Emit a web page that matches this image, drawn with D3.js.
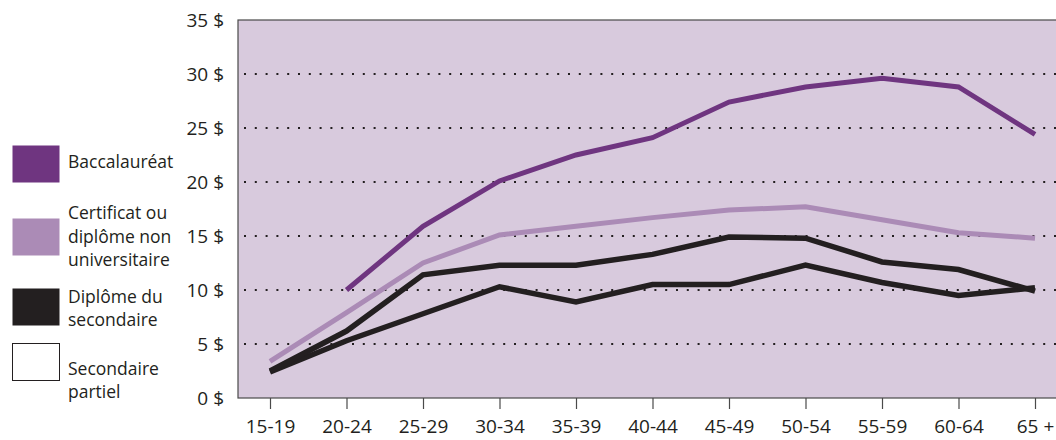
<!DOCTYPE html>
<html><head><meta charset="utf-8">
<script src="https://cdn.jsdelivr.net/npm/d3@7"></script>
<style>body{margin:0;background:#fff;}svg{display:block;}text{font-family:"Open Sans","DejaVu Sans",sans-serif;fill:#231f20;}</style>
</head><body><svg id="c" width="1056" height="440"></svg>
<script>
const categories = ["15-19","20-24","25-29","30-34","35-39","40-44","45-49","50-54","55-59","60-64","65 +"];
const baccalaureat = [null,10.0,15.9,20.1,22.5,24.1,27.4,28.8,29.6,28.8,24.4];
const certificat = [3.4,7.9,12.5,15.1,15.9,16.7,17.4,17.7,16.5,15.3,14.8];
const diplomeSecondaire = [2.5,6.2,11.4,12.3,12.3,13.3,14.9,14.8,12.6,11.9,9.9];
const secondairePartiel = [2.4,5.3,7.8,10.3,8.9,10.5,10.5,12.3,10.7,9.5,10.2];
const yTicks = [0,5,10,15,20,25,30,35];
const seriesNames = ["Baccalauréat","Certificat ou|diplôme non|universitaire","Diplôme du|secondaire","Secondaire|partiel"];
const seriesColors = ["#6f3580","#ab8bb6","#231f20","#ffffff"];
const lineColors = ["#6f3580","#ab8bb6","#231f20","#231f20"];
const seriesData = [baccalaureat, certificat, diplomeSecondaire, secondairePartiel];

const svg = d3.select("#c");
const frame = {left:238, top:20, right:1062, bottom:398};
const x = d3.scalePoint().domain(categories).range([270,1035]);
const y = d3.scaleLinear().domain([0,35]).range([frame.bottom, frame.top]);

svg.append("rect").attr("x",frame.left).attr("y",frame.top)
  .attr("width",frame.right-frame.left).attr("height",frame.bottom-frame.top)
  .attr("fill","#d8cadd").attr("stroke","#4a4a4a").attr("stroke-width",1.2);

// dotted gridlines
svg.append("g").selectAll("line").data(yTicks.filter(d=>d>0&&d<35)).join("line")
  .attr("x1",frame.left+6).attr("x2",frame.right).attr("y1",d=>y(d)).attr("y2",d=>y(d))
  .attr("stroke","#231f20").attr("stroke-width",2).attr("stroke-dasharray","2 8.8");

// y labels
svg.append("g").selectAll("text").data(yTicks).join("text")
  .attr("x",224).attr("y",d=>y(d)).attr("dy","0.35em").attr("text-anchor","end")
  .attr("font-size",19).text(d=>d+" $");

// x axis
const xa = svg.append("g").attr("transform",`translate(0,${frame.bottom})`)
  .call(d3.axisBottom(x).tickSize(11).tickPadding(11));
xa.select(".domain").remove();
xa.selectAll(".tick line").attr("stroke","#4a4a4a").attr("stroke-width",1.2);
xa.selectAll(".tick text").attr("font-size",19).attr("fill","#231f20").attr("dy","0.71em")
  .style("font-family",'"Open Sans","DejaVu Sans",sans-serif');

const line = d3.line().defined(d=>d.v!=null).x(d=>x(d.c)).y(d=>y(d.v)).curve(d3.curveLinear);
const order = [3,2,1,0];
order.forEach(i=>{
  svg.append("path").datum(categories.map((c,j)=>({c, v:seriesData[i][j]})))
    .attr("d",line).attr("fill","none").attr("stroke",lineColors[i])
    .attr("stroke-width",i>=2?5.5:5).attr("stroke-linejoin","miter");
});

// legend
const legY = [145,218,288,343];
const textY = [[162],[213,237,260],[297,320],[369,392]];
seriesNames.forEach((n,i)=>{
  svg.append("rect").attr("x",12.5).attr("y",legY[i]+0.5).attr("width",47).attr("height",37)
    .attr("fill",seriesColors[i]).attr("stroke",i===3?"#231f20":"none").attr("stroke-width",1);
  const lines = n.split("|");
  lines.forEach((t,k)=>{
    svg.append("text").attr("x",68).attr("y",textY[i][k]).attr("dy","0.35em")
      .attr("font-size",17.5).text(t);
  });
});
</script></body></html>
